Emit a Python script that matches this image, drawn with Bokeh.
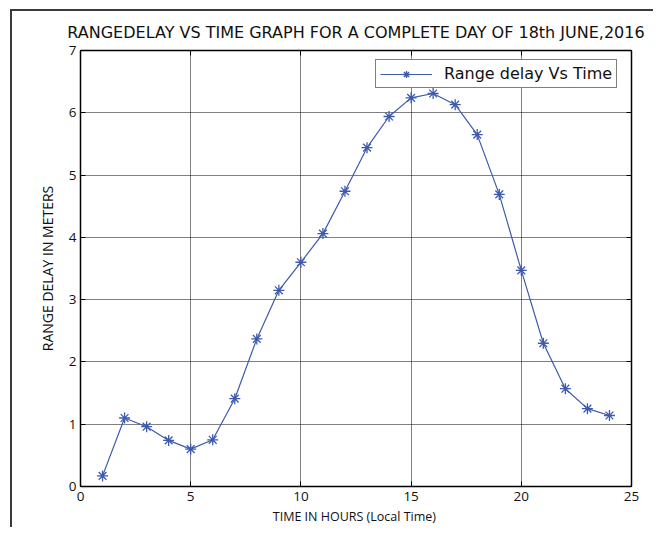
from bokeh.plotting import figure
from bokeh.models import Range1d, FixedTicker, LinearAxis, Legend, LegendItem
from bokeh.embed import file_html
from bokeh.resources import INLINE

hours = [1, 2, 3, 4, 5, 6, 7, 8, 9, 10, 11, 12, 13, 14, 15, 16, 17, 18, 19, 20, 21, 22, 23, 24]
range_delay = [0.17, 1.10, 0.96, 0.74, 0.60, 0.75, 1.41, 2.37, 3.15, 3.60, 4.06, 4.74,
               5.44, 5.94, 6.24, 6.31, 6.13, 5.65, 4.69, 3.47, 2.30, 1.57, 1.25, 1.14]
x_ticks = [0, 5, 10, 15, 20, 25]
y_ticks = [0, 1, 2, 3, 4, 5, 6, 7]

title_text = "RANGEDELAY VS TIME GRAPH FOR A COMPLETE DAY OF 18th JUNE,2016"
x_label = "TIME  IN HOURS (Local Time)"
y_label = "RANGE DELAY IN METERS"
legend_label = "Range delay Vs Time"

FONT = "Open Sans"
BLUE = "#3d5aae"
EDGE = "#3a3a3a"

page_edge = {
    "background-color": "white",
    "background-image": f"linear-gradient({EDGE}, {EDGE}), linear-gradient({EDGE}, {EDGE})",
    "background-size": "2px 100%, 100% 2px",
    "background-position": "10px 9px, 10px 9px",
    "background-repeat": "no-repeat",
}

p = figure(width=653, height=527, output_backend="svg", toolbar_location=None,
           x_range=Range1d(0, 25), y_range=Range1d(0, 7),
           min_border_left=80, min_border_right=22, min_border_top=50, min_border_bottom=41,
           title=title_text, styles=page_edge)

p.title.text_font = "DejaVu Sans"
p.title.text_font_size = "16px"
p.title.text_font_style = "normal"
p.title.text_color = "#111111"
p.title.align = "center"
p.title.offset = 0
p.title.standoff = 18

p.outline_line_color = "black"
p.outline_line_width = 1
p.background_fill_color = "white"
p.border_fill_alpha = 0

for ax, lab in ((p.xaxis[0], x_label), (p.yaxis[0], y_label)):
    ax.axis_label = lab
    ax.axis_label_text_font = FONT
    ax.axis_label_text_font_style = "normal"
    ax.axis_label_text_color = "#111111"
    ax.major_label_text_font = FONT
    ax.major_label_text_font_size = "13.5px"
    ax.major_label_text_color = "#111111"
    ax.major_tick_in = 5
    ax.major_tick_out = 0
    ax.minor_tick_in = 0
    ax.minor_tick_out = 0
    ax.axis_line_color = "black"
    ax.axis_line_width = 1.5
    ax.major_tick_line_color = "black"

p.xaxis[0].axis_label_text_font_size = "12.5px"
p.yaxis[0].axis_label_text_font_size = "14px"
p.xaxis[0].ticker = FixedTicker(ticks=x_ticks)
p.yaxis[0].ticker = FixedTicker(ticks=y_ticks)
p.xaxis[0].major_label_standoff = 5
p.yaxis[0].major_label_standoff = 4
p.xaxis[0].axis_label_standoff = 4
p.yaxis[0].axis_label_standoff = 9

top_ax = LinearAxis(ticker=FixedTicker(ticks=x_ticks), major_label_text_font_size="0px",
                    major_tick_in=5, major_tick_out=0, minor_tick_in=0, minor_tick_out=0,
                    axis_line_width=1.5, major_label_standoff=0)
right_ax = LinearAxis(ticker=FixedTicker(ticks=y_ticks), major_label_text_font_size="0px",
                      major_tick_in=5, major_tick_out=0, minor_tick_in=0, minor_tick_out=0,
                      axis_line_width=1.5, major_label_standoff=0)
p.add_layout(top_ax, "above")
p.add_layout(right_ax, "right")

p.xgrid.ticker = FixedTicker(ticks=x_ticks)
p.ygrid.ticker = FixedTicker(ticks=y_ticks)
for g in (p.xgrid[0], p.ygrid[0]):
    g.grid_line_color = "black"
    g.grid_line_dash = "1 1"
    g.grid_line_width = 1
    g.grid_line_alpha = 1.0

ln = p.line(hours, range_delay, line_color=BLUE, line_width=1.2)
mk = p.scatter(hours, range_delay, marker="asterisk", size=11, line_color=BLUE, line_width=1.3)

legend = Legend(items=[LegendItem(label=legend_label, renderers=[ln, mk])],
                location=(295, 398), margin=0, padding=4, spacing=0,
                label_text_font="DejaVu Sans", label_text_font_size="16px", label_text_color="#111111",
                label_height=18, glyph_height=18, glyph_width=52, label_standoff=12,
                border_line_color="black", border_line_width=1.5,
                background_fill_color="white", background_fill_alpha=1)
p.add_layout(legend, "center")

open("out.html", "w").write(file_html(p, INLINE))
